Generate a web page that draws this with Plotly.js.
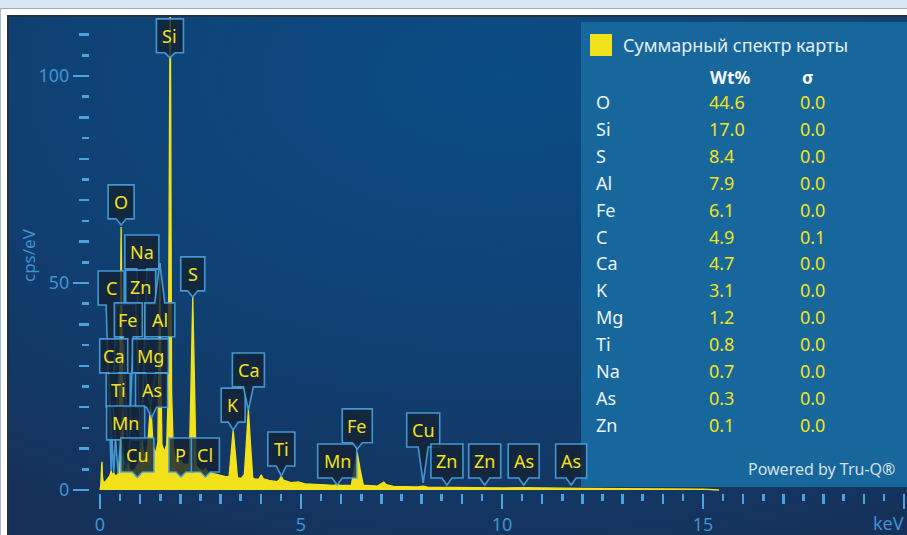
<!DOCTYPE html>
<html>
<head>
<meta charset="utf-8">
<script src="https://cdn.plot.ly/plotly-3.0.1.min.js"></script>
<style>
  html, body { margin: 0; padding: 0; background: #ffffff; }
  #chart { width: 907px; height: 535px; }
</style>
</head>
<body>
<div id="chart"></div>
<script>
// ---------------- DATA ----------------
// EDS spectrum (energy in keV, intensity in cps/eV)
const energyKeV = [0.000,0.020,0.040,0.050,0.062,0.085,0.140,0.200,0.245,0.277,0.305,0.341,0.380,0.420,0.452,0.470,0.495,0.525,0.555,0.585,0.610,0.637,0.670,0.705,0.740,0.800,0.860,0.930,0.975,1.012,1.041,1.075,1.130,1.185,1.225,1.254,1.282,1.320,1.380,1.440,1.462,1.487,1.512,1.540,1.600,1.660,1.700,1.722,1.735,1.745,1.758,1.780,1.820,1.880,1.950,1.990,2.013,2.040,2.120,2.220,2.265,2.307,2.350,2.390,2.470,2.580,2.622,2.670,2.800,2.950,3.100,3.210,3.255,3.313,3.370,3.420,3.510,3.590,3.638,3.691,3.744,3.800,3.870,3.950,4.010,4.060,4.200,4.400,4.460,4.510,4.560,4.750,4.930,5.100,5.500,5.820,5.900,5.980,6.250,6.330,6.400,6.470,6.550,6.900,7.000,7.060,7.120,7.300,7.900,8.040,8.150,8.550,8.630,8.720,9.570,10.000,10.540,11.000,12.000,13.000,14.000,15.000,15.400];
const cpsPerEv = [0.0,1.2,5.6,6.8,3.2,1.7,2.1,3.0,3.5,4.6,3.6,4.1,3.4,3.6,4.0,4.6,34.0,63.5,34.0,4.8,4.4,5.2,4.7,6.6,4.8,4.6,4.9,6.2,6.8,10.2,12.5,9.4,8.2,10.5,15.8,20.2,17.5,10.6,8.8,11.5,30.0,54.8,30.0,11.0,9.2,11.0,24.0,96.0,124.0,124.0,96.0,24.0,10.5,7.6,6.9,6.9,7.3,6.6,6.1,6.3,26.0,46.6,26.0,6.0,5.0,4.6,5.3,4.4,4.0,3.6,3.3,3.2,8.5,14.5,8.5,3.0,2.8,3.7,11.0,19.3,11.0,2.9,2.6,2.6,3.7,2.7,2.3,2.0,2.5,3.3,2.4,1.8,1.95,1.5,1.3,1.1,1.35,1.1,1.1,5.0,9.0,5.0,1.2,0.95,1.5,1.9,1.3,0.85,0.75,0.95,0.7,0.65,0.75,0.6,0.55,0.5,0.55,0.45,0.38,0.32,0.27,0.22,0.0];

// Peak identification labels (element, line energy in keV)
const labelElements = ['Si','O','Na','C','Zn','Fe','Al','Ca','Mg','Ti','As','Mn','Cu','S','P','Cl','K','Ca','Ti','Mn','Fe','Cu','Zn','Zn','As','As'];
const labelEnergies = [1.740,0.525,1.041,0.277,1.012,0.705,1.487,0.341,1.254,0.452,1.282,0.637,0.930,2.307,2.013,2.622,3.313,3.691,4.510,5.900,6.400,8.040,8.630,9.570,10.540,11.720];

// Quantification table
const tableElements = ['O','Si','S','Al','Fe','C','Ca','K','Mg','Ti','Na','As','Zn'];
const tableWt = [44.6,17.0,8.4,7.9,6.1,4.9,4.7,3.1,1.2,0.8,0.7,0.3,0.1];
const tableSigma = [0.0,0.0,0.0,0.0,0.0,0.1,0.0,0.0,0.0,0.0,0.0,0.0,0.0];

// Axis ticks
const xTickVals = [0,5,10,15,20];
const xTickText = ['0','5','10','15',''];
const xUnitLabel = 'keV';
const yTickVals = [0,50,100];
const yTickText = ['0','50','100'];

const seriesName = 'Суммарный спектр карты';

// ---------------- LAYOUT / STYLE ----------------
// label box placement (bottom of box and pointer tip, in cps/eV), box widths in px
const labelBoxBottom = [105.6,65.5,53.4,44.7,44.9,37.0,37.0,28.3,28.3,20.0,20.0,12.1,4.35,48.1,4.35,4.35,16.4,24.9,5.8,2.9,11.4,10.4,2.9,2.9,2.9,2.9];
const labelTip       = [104.4,64.0,12.5,4.6,10.2,6.6,54.8,4.1,20.2,4.0,17.5,5.2,3.0,46.6,3.1,3.1,14.5,19.3,3.4,1.2,9.9,1.7,1.2,1.2,1.2,1.2];
const labelWidthPx   = [27,26,34,26,30,28,30,28,36,24,32,38,33,24,24,28,24,32,27,39,30,33,32,32,31,31];
const BOX_H = 8.2;

const FONT = '"Noto Sans", "Open Sans", sans-serif';
const YELLOW = '#f2e21b';
const AXIS_BLUE = '#3e93d3';
const TICK_BLUE = '#4aa2de';

const W = 907, H = 535;
const M = {l: 90, r: 0, t: 17, b: 42};
const PW = W - M.l - M.r, PH = H - M.t - M.b;
const px = x => (x - M.l) / PW;       // pixel -> paper x
const py = y => (H - M.b - y) / PH;   // pixel -> paper y

const traces = [
  {
    type: 'scatter', mode: 'lines',
    x: energyKeV, y: cpsPerEv,
    name: seriesName,
    line: {color: YELLOW, width: 1.3},
    fill: 'tozeroy', fillcolor: YELLOW,
    hoverinfo: 'skip', showlegend: false
  },
  { type: 'scatter', mode: 'lines', x: [null], y: [null], xaxis: 'x2', yaxis: 'y2', showlegend: false, hoverinfo: 'skip' }
];

const shapes = [];
const annotations = [];

// frame around the panel
shapes.push({type:'rect', xref:'paper', yref:'paper', x0:px(0), x1:px(W), y0:py(8), y1:py(0), fillcolor:'#d9e8f5', line:{width:0}});
shapes.push({type:'rect', xref:'paper', yref:'paper', x0:px(0), x1:px(W), y0:py(9), y1:py(8), fillcolor:'#9eaab5', line:{width:0}});
shapes.push({type:'rect', xref:'paper', yref:'paper', x0:px(7), x1:px(W), y0:py(17), y1:py(15), fillcolor:'#26313c', line:{width:0}});
shapes.push({type:'rect', xref:'paper', yref:'paper', x0:px(7), x1:px(9), y0:py(H), y1:py(15), fillcolor:'#26313c', line:{width:0}});
shapes.push({type:'rect', xref:'paper', yref:'paper', x0:px(0), x1:px(1), y0:py(H), y1:py(9), fillcolor:'#b0b8c0', line:{width:0}});

// legend / quantification panel
shapes.push({type:'rect', xref:'paper', yref:'paper', x0:px(581), x1:px(W+2), y0:py(487), y1:py(22), fillcolor:'#17679c', line:{width:0}});
shapes.push({type:'rect', xref:'paper', yref:'paper', x0:px(590), x1:px(612), y0:py(56), y1:py(34), fillcolor:YELLOW, line:{width:0}});

// element labels with pointers
function labelPath(w, bot, top, tip) {
  const h = w / 2, n = 5;
  if (tip >= top) {
    return `M ${-h},${bot} L ${h},${bot} L ${h},${top} L ${n},${top} L 0,${tip} L ${-n},${top} L ${-h},${top} Z`;
  }
  return `M ${-h},${top} L ${h},${top} L ${h},${bot} L ${n},${bot} L 0,${tip} L ${-n},${bot} L ${-h},${bot} Z`;
}
labelElements.forEach((el, i) => {
  const bot = labelBoxBottom[i], top = bot + BOX_H;
  shapes.push({
    type: 'path', xref: 'x', yref: 'y', xsizemode: 'pixel', xanchor: labelEnergies[i],
    path: labelPath(labelWidthPx[i], bot, top, labelTip[i]),
    fillcolor: 'rgba(19,34,52,0.82)',
    line: {color: 'rgba(72,162,224,0.9)', width: 1.6}
  });
  annotations.push({
    x: labelEnergies[i], y: bot + BOX_H / 2, xref: 'x', yref: 'y',
    text: el, showarrow: false, xanchor: 'center', yanchor: 'middle',
    font: {family: FONT, size: 18, color: YELLOW}
  });
});

// y axis title
annotations.push({
  xref:'paper', yref:'paper', x: px(28), y: py(255), text: 'cps/eV', textangle: -90,
  showarrow:false, xanchor:'center', yanchor:'middle',
  font:{family: FONT, size: 17, color: AXIS_BLUE}
});
// x axis unit at the right end
annotations.push({
  xref:'paper', yref:'paper', x: px(906), y: py(523), text: xUnitLabel,
  showarrow:false, xanchor:'right', yanchor:'middle',
  font:{family: FONT, size: 18, color: AXIS_BLUE}
});

// legend title and table
annotations.push({xref:'paper', yref:'paper', x:px(621), y:py(45), text: seriesName, showarrow:false,
  xanchor:'left', yanchor:'middle', font:{family: FONT, size: 18, color:'#e2eef8'}});
annotations.push({xref:'paper', yref:'paper', x:px(708), y:py(77), text:'<b>Wt%</b>', showarrow:false,
  xanchor:'left', yanchor:'middle', font:{family: FONT, size: 17.5, color:'#f2f7fb'}});
annotations.push({xref:'paper', yref:'paper', x:px(800), y:py(77), text:'<b>σ</b>', showarrow:false,
  xanchor:'left', yanchor:'middle', font:{family: FONT, size: 17.5, color:'#f2f7fb'}});
tableElements.forEach((el, i) => {
  const yy = py(102 + i * 26.9);
  annotations.push({xref:'paper', yref:'paper', x:px(594), y:yy, text: el, showarrow:false,
    xanchor:'left', yanchor:'middle', font:{family: FONT, size: 18, color:'#eaf3fa'}});
  annotations.push({xref:'paper', yref:'paper', x:px(707), y:yy, text: tableWt[i].toFixed(1), showarrow:false,
    xanchor:'left', yanchor:'middle', font:{family: FONT, size: 18, color: YELLOW}});
  annotations.push({xref:'paper', yref:'paper', x:px(798), y:yy, text: tableSigma[i].toFixed(1), showarrow:false,
    xanchor:'left', yanchor:'middle', font:{family: FONT, size: 18, color: YELLOW}});
});
annotations.push({xref:'paper', yref:'paper', x:px(746), y:py(469), text:'Powered by Tru-Q®', showarrow:false,
  xanchor:'left', yanchor:'middle', font:{family: FONT, size: 16, color:'#d3e0ea'}});

// background gradient panel
const bgSvg = "<svg xmlns='http://www.w3.org/2000/svg' width='900' height='520' viewBox='0 0 900 520' preserveAspectRatio='none'>" +
  "<defs><radialGradient id='g' cx='0.55' cy='0.12' r='0.95'>" +
  "<stop offset='0' stop-color='#0b4c85'/><stop offset='0.55' stop-color='#0f4173'/><stop offset='1' stop-color='#15315a'/>" +
  "</radialGradient></defs><rect width='900' height='520' fill='url(#g)'/></svg>";

const xRange = [-(100 - M.l) / 40.2, (W - 100) / 40.2];
const yRange = [-(3) / 4.14, (490 - M.t) / 4.14];

const layout = {
  width: W, height: H,
  margin: M,
  paper_bgcolor: '#ffffff',
  plot_bgcolor: 'rgba(0,0,0,0)',
  showlegend: false,
  font: {family: FONT, color: AXIS_BLUE},
  images: [{
    source: 'data:image/svg+xml;charset=utf-8,' + encodeURIComponent(bgSvg),
    xref: 'paper', yref: 'paper', x: px(9), y: py(17), sizex: px(W) - px(9), sizey: py(17) - py(H),
    xanchor: 'left', yanchor: 'top', sizing: 'stretch', layer: 'below'
  }],
  xaxis: {
    range: xRange, showgrid: false, zeroline: false, showline: false,
    tickvals: xTickVals, ticktext: xTickText,
    ticks: 'outside', ticklen: 15, tickwidth: 2.5, tickcolor: TICK_BLUE,
    tickfont: {family: FONT, size: 18, color: AXIS_BLUE},
    minor: {dtick: 0.5, tick0: 0, ticks: 'outside', ticklen: 7, tickwidth: 2.5, tickcolor: TICK_BLUE, showgrid: false}
  },
  yaxis: {
    range: yRange, showgrid: false, zeroline: false, showline: false,
    tickvals: yTickVals, ticktext: yTickText,
    ticks: 'outside', ticklen: 16, tickwidth: 2.5, tickcolor: TICK_BLUE,
    tickfont: {family: FONT, size: 18, color: AXIS_BLUE},
    minor: {dtick: 5, tick0: 0, ticks: 'outside', ticklen: 7, tickwidth: 2.5, tickcolor: TICK_BLUE, showgrid: false}
  },
  xaxis2: {
    overlaying: 'x', anchor: 'y2', side: 'bottom', range: xRange,
    showgrid: false, zeroline: false, showline: false, showticklabels: false,
    tick0: 0, dtick: 1, ticks: 'outside', ticklen: 10, tickwidth: 2.5, tickcolor: TICK_BLUE
  },
  yaxis2: {
    overlaying: 'y', anchor: 'x2', side: 'left', range: yRange,
    showgrid: false, zeroline: false, showline: false, showticklabels: false,
    tick0: 0, dtick: 10, ticks: 'outside', ticklen: 10, tickwidth: 2.5, tickcolor: TICK_BLUE
  },
  shapes: shapes,
  annotations: annotations
};

Plotly.newPlot('chart', traces, layout, {staticPlot: true, displayModeBar: false});
</script>
</body>
</html>
